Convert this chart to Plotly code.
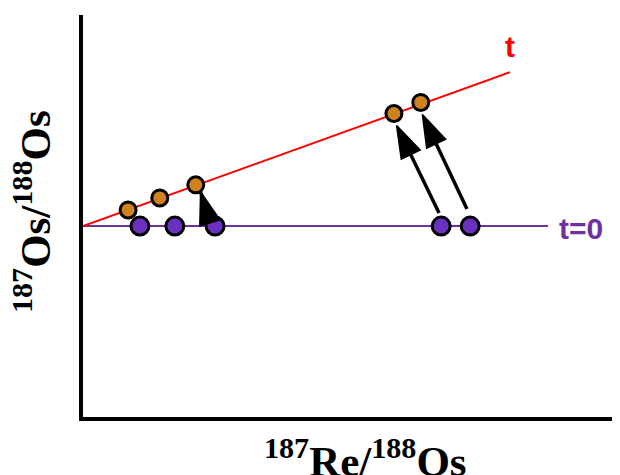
import plotly.graph_objects as go

# schematic isochron data (arbitrary units)
initial_ratio = 1.9
t0_line_x = [0.0, 8.66]
t_line_x = [0.0, 7.95]
t_line_y = [1.9, 3.43]

purple_x = [1.06, 1.71, 2.46, 6.67, 7.21]
purple_y = [1.9, 1.9, 1.9, 1.9, 1.9]

orange_x = [0.84, 1.43, 2.10, 5.79, 6.29]
orange_y = [2.06, 2.18, 2.31, 3.02, 3.13]

# arrows: (tail_x, tail_y, tip_x, tip_y)
arrow_tail_x = [2.33, 6.63, 7.15]
arrow_tail_y = [1.99, 2.03, 2.07]
arrow_tip_x = [2.19, 5.84, 6.32]
arrow_tip_y = [2.24, 2.90, 3.01]

fig = go.Figure()
fig.add_trace(go.Scatter(x=t0_line_x, y=[initial_ratio]*2, mode="lines",
                         line=dict(color="#7030A0", width=2), hoverinfo="skip"))
fig.add_trace(go.Scatter(x=t_line_x, y=t_line_y, mode="lines",
                         line=dict(color="#FF0000", width=2), hoverinfo="skip"))
fig.add_trace(go.Scatter(x=purple_x, y=purple_y, mode="markers",
                         marker=dict(color="#6A30C0", size=18, line=dict(color="black", width=3))))
fig.add_trace(go.Scatter(x=orange_x, y=orange_y, mode="markers",
                         marker=dict(color="#D0821E", size=16, line=dict(color="black", width=3))))

for tx, ty, hx, hy in zip(arrow_tail_x, arrow_tail_y, arrow_tip_x, arrow_tip_y):
    fig.add_trace(go.Scatter(
        x=[tx, hx], y=[ty, hy], mode="lines+markers",
        line=dict(color="black", width=3.5),
        marker=dict(symbol="arrow", angleref="previous", size=[0, 34], opacity=1,
                    color="black", line=dict(width=1.5, color="black")),
        hoverinfo="skip"))

fig.add_annotation(x=7.95, y=3.43, text="<b>t</b>", showarrow=False, xref="x", yref="y",
                   yshift=26, xshift=0, font=dict(family="Liberation Sans", size=30, color="#FF0000"))
fig.add_annotation(x=8.66, y=1.9, text="<b>t=0</b>", showarrow=False, xref="x", yref="y",
                   xanchor="left", xshift=9, yshift=-2,
                   font=dict(family="Liberation Sans", size=30, color="#7030A0"))

fig.add_annotation(x=0.5 + 14/537, y=0, xref="paper", yref="paper", yanchor="top", yshift=-12,
                   text="<b><sup>187</sup>Re/<sup>188</sup>Os</b>", showarrow=False,
                   font=dict(family="Liberation Serif", size=43, color="black"))
fig.add_annotation(x=0, y=0.51, xref="paper", yref="paper", xanchor="right", xshift=-22,
                   textangle=-90,
                   text="<b><sup>187</sup>Os/<sup>188</sup>Os</b>", showarrow=False,
                   font=dict(family="Liberation Serif", size=43, color="black"))

fig.update_layout(
    width=612, height=467,
    margin=dict(l=75, r=0, t=7, b=58),
    paper_bgcolor="white", plot_bgcolor="white",
    showlegend=False,
    xaxis=dict(range=[0, 10], showgrid=False, zeroline=False, showticklabels=False,
               ticks="", showline=True, linecolor="black", linewidth=4),
    yaxis=dict(range=[0, 4], showgrid=False, zeroline=False, showticklabels=False,
               ticks="", showline=True, linecolor="black", linewidth=4),
)

fig.write_html("out.html")
